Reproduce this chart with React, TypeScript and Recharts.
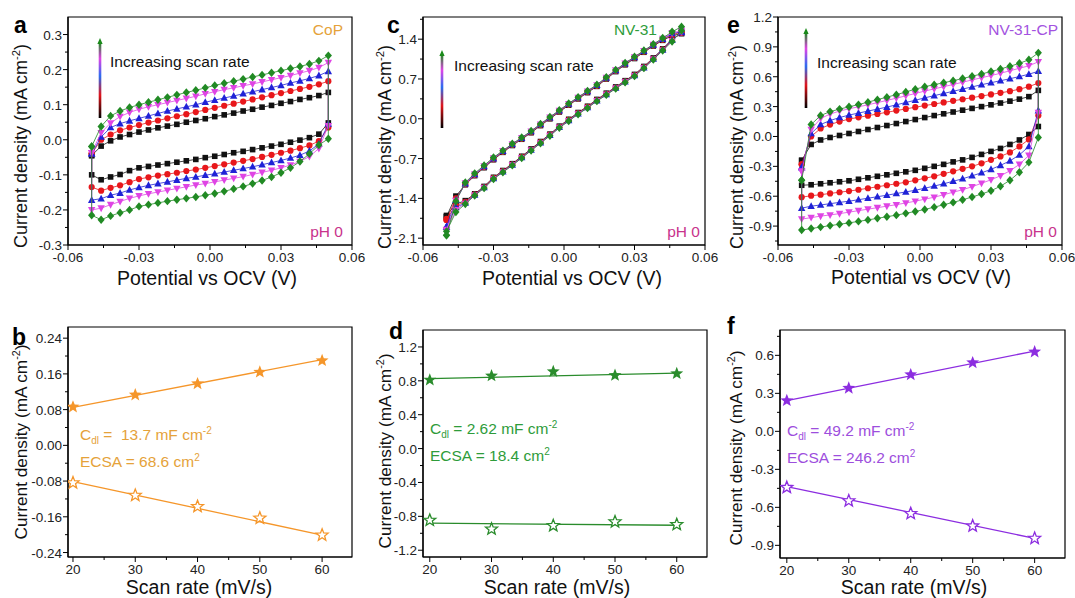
import React from "react";
import { ComposedChart, Scatter, XAxis, YAxis, ReferenceArea } from "recharts";

const FONT = "'Liberation Sans', Arial, Helvetica, sans-serif";

// potential grid of the CV markers (V vs OCV)
const potentials = [
  -0.05, -0.046, -0.042, -0.038, -0.034, -0.03, -0.026, -0.022, -0.018, -0.014, -0.01, -0.006, -0.002,
  0.002, 0.006, 0.01, 0.014, 0.018, 0.022, 0.026, 0.03, 0.034, 0.038, 0.042, 0.046, 0.05,
];

// CoP, forward (anodic) and reverse (cathodic) branches, 20..60 mV/s
const copFwd20 = [-0.045, -0.018, -0.003, 0.008, 0.015, 0.022, 0.028, 0.034, 0.039, 0.044, 0.05, 0.055, 0.06, 0.066, 0.071, 0.076, 0.082, 0.087, 0.093, 0.098, 0.104, 0.109, 0.115, 0.12, 0.126, 0.135];
const copRev20 = [-0.1, -0.114, -0.106, -0.099, -0.088, -0.08, -0.076, -0.072, -0.068, -0.064, -0.06, -0.056, -0.051, -0.047, -0.042, -0.037, -0.033, -0.028, -0.023, -0.018, -0.013, -0.007, -0.001, 0.006, 0.016, 0.048];
const copFwd30 = [-0.04, 0.0, 0.015, 0.027, 0.035, 0.042, 0.049, 0.055, 0.061, 0.067, 0.073, 0.079, 0.085, 0.091, 0.097, 0.103, 0.109, 0.115, 0.121, 0.127, 0.133, 0.139, 0.145, 0.151, 0.158, 0.167];
const copRev30 = [-0.135, -0.145, -0.137, -0.13, -0.121, -0.112, -0.107, -0.102, -0.098, -0.094, -0.089, -0.085, -0.08, -0.075, -0.07, -0.065, -0.06, -0.055, -0.049, -0.043, -0.037, -0.031, -0.024, -0.016, -0.004, 0.035];
const copFwd40 = [-0.04, 0.008, 0.035, 0.046, 0.054, 0.061, 0.068, 0.075, 0.082, 0.088, 0.094, 0.1, 0.107, 0.113, 0.119, 0.125, 0.131, 0.137, 0.143, 0.149, 0.155, 0.162, 0.168, 0.175, 0.183, 0.195];
const copRev40 = [-0.172, -0.168, -0.158, -0.152, -0.143, -0.136, -0.13, -0.125, -0.12, -0.115, -0.11, -0.106, -0.101, -0.097, -0.092, -0.087, -0.082, -0.077, -0.071, -0.065, -0.059, -0.052, -0.044, -0.032, -0.012, 0.045];
const copFwd50 = [-0.037, 0.02, 0.048, 0.066, 0.078, 0.087, 0.094, 0.1, 0.106, 0.112, 0.118, 0.124, 0.131, 0.137, 0.143, 0.148, 0.154, 0.159, 0.165, 0.171, 0.177, 0.183, 0.19, 0.197, 0.206, 0.22];
const copRev50 = [-0.2, -0.195, -0.185, -0.176, -0.167, -0.16, -0.154, -0.149, -0.144, -0.139, -0.134, -0.129, -0.125, -0.12, -0.115, -0.11, -0.105, -0.099, -0.093, -0.087, -0.08, -0.072, -0.062, -0.048, -0.025, 0.04];
const copFwd60 = [-0.019, 0.038, 0.068, 0.082, 0.092, 0.1, 0.107, 0.114, 0.121, 0.128, 0.135, 0.141, 0.148, 0.155, 0.161, 0.167, 0.173, 0.179, 0.185, 0.191, 0.197, 0.203, 0.209, 0.216, 0.225, 0.24];
const copRev60 = [-0.215, -0.228, -0.217, -0.208, -0.2, -0.19, -0.185, -0.18, -0.175, -0.171, -0.167, -0.163, -0.158, -0.153, -0.147, -0.14, -0.133, -0.125, -0.116, -0.106, -0.094, -0.08, -0.062, -0.04, -0.015, 0.003];

// NV-31
const nvFwd20 = [-1.72, -1.36, -1.16, -1.0, -0.86, -0.72, -0.59, -0.47, -0.36, -0.245, -0.12, 0.0, 0.12, 0.24, 0.35, 0.46, 0.57, 0.7, 0.83, 0.95, 1.06, 1.17, 1.28, 1.38, 1.46, 1.5];
const nvRev20 = [-1.7, -1.5, -1.44, -1.32, -1.19, -1.03, -0.91, -0.79, -0.66, -0.53, -0.4, -0.27, -0.13, -0.01, 0.11, 0.22, 0.34, 0.45, 0.56, 0.67, 0.78, 0.92, 1.07, 1.23, 1.4, 1.5];
const nvFwd30 = [-1.78, -1.4, -1.15, -0.99, -0.85, -0.71, -0.58, -0.46, -0.35, -0.235, -0.11, 0.01, 0.13, 0.25, 0.36, 0.47, 0.58, 0.71, 0.84, 0.96, 1.07, 1.18, 1.29, 1.39, 1.48, 1.52];
const nvRev30 = [-1.76, -1.53, -1.46, -1.33, -1.2, -1.04, -0.92, -0.8, -0.67, -0.54, -0.41, -0.28, -0.14, -0.02, 0.1, 0.21, 0.33, 0.44, 0.55, 0.66, 0.77, 0.91, 1.06, 1.22, 1.39, 1.51];
const nvFwd40 = [-1.9, -1.43, -1.14, -0.98, -0.84, -0.7, -0.57, -0.45, -0.34, -0.225, -0.1, 0.02, 0.14, 0.26, 0.37, 0.48, 0.59, 0.72, 0.85, 0.97, 1.08, 1.19, 1.3, 1.4, 1.5, 1.53];
const nvRev40 = [-1.9, -1.56, -1.48, -1.34, -1.21, -1.05, -0.93, -0.81, -0.68, -0.55, -0.42, -0.29, -0.15, -0.03, 0.09, 0.2, 0.32, 0.43, 0.54, 0.65, 0.76, 0.9, 1.05, 1.21, 1.38, 1.52];
const nvFwd50 = [-1.96, -1.44, -1.13, -0.97, -0.83, -0.69, -0.565, -0.445, -0.335, -0.22, -0.095, 0.025, 0.145, 0.265, 0.375, 0.485, 0.595, 0.725, 0.855, 0.975, 1.085, 1.195, 1.305, 1.41, 1.51, 1.55];
const nvRev50 = [-1.95, -1.6, -1.49, -1.345, -1.215, -1.055, -0.935, -0.815, -0.685, -0.555, -0.425, -0.295, -0.155, -0.035, 0.085, 0.195, 0.315, 0.425, 0.535, 0.645, 0.755, 0.895, 1.045, 1.205, 1.37, 1.53];
const nvFwd60 = [-2.05, -1.45, -1.12, -0.96, -0.82, -0.68, -0.56, -0.44, -0.33, -0.215, -0.09, 0.03, 0.15, 0.27, 0.38, 0.49, 0.6, 0.73, 0.86, 0.98, 1.09, 1.2, 1.31, 1.42, 1.53, 1.62];
const nvRev60 = [-1.98, -1.64, -1.5, -1.35, -1.22, -1.06, -0.94, -0.82, -0.69, -0.56, -0.43, -0.3, -0.16, -0.04, 0.08, 0.19, 0.31, 0.42, 0.53, 0.64, 0.75, 0.89, 1.04, 1.2, 1.36, 1.55];

// NV-31-CP
const cpFwd20 = [-0.24, -0.08, -0.035, -0.01, 0.01, 0.03, 0.05, 0.07, 0.09, 0.11, 0.13, 0.15, 0.17, 0.19, 0.21, 0.228, 0.246, 0.264, 0.282, 0.3, 0.318, 0.336, 0.355, 0.375, 0.4, 0.463];
const cpRev20 = [-0.49, -0.485, -0.475, -0.465, -0.455, -0.445, -0.43, -0.415, -0.4, -0.385, -0.37, -0.355, -0.34, -0.32, -0.3, -0.28, -0.255, -0.235, -0.21, -0.18, -0.15, -0.12, -0.08, -0.035, 0.02, 0.1];
const cpFwd30 = [-0.28, 0.0, 0.08, 0.12, 0.15, 0.175, 0.192, 0.209, 0.226, 0.243, 0.26, 0.277, 0.294, 0.31, 0.326, 0.342, 0.358, 0.374, 0.39, 0.406, 0.422, 0.438, 0.455, 0.475, 0.5, 0.537];
const cpRev30 = [-0.61, -0.595, -0.585, -0.572, -0.56, -0.548, -0.535, -0.52, -0.505, -0.49, -0.475, -0.46, -0.44, -0.42, -0.4, -0.375, -0.35, -0.325, -0.3, -0.27, -0.235, -0.2, -0.16, -0.1, -0.03, 0.21];
const cpFwd40 = [-0.31, 0.03, 0.12, 0.16, 0.19, 0.215, 0.235, 0.255, 0.275, 0.295, 0.318, 0.341, 0.364, 0.388, 0.41, 0.432, 0.454, 0.476, 0.498, 0.52, 0.54, 0.56, 0.58, 0.602, 0.625, 0.655];
const cpRev40 = [-0.72, -0.7, -0.688, -0.675, -0.662, -0.65, -0.635, -0.62, -0.605, -0.59, -0.573, -0.557, -0.54, -0.52, -0.498, -0.475, -0.45, -0.425, -0.395, -0.365, -0.33, -0.29, -0.245, -0.185, -0.1, 0.26];
const cpFwd50 = [-0.35, 0.07, 0.18, 0.225, 0.255, 0.278, 0.298, 0.318, 0.34, 0.362, 0.385, 0.408, 0.432, 0.456, 0.478, 0.5, 0.522, 0.545, 0.568, 0.59, 0.612, 0.635, 0.66, 0.685, 0.71, 0.75];
const cpRev50 = [-0.83, -0.815, -0.8, -0.788, -0.775, -0.76, -0.745, -0.73, -0.715, -0.7, -0.685, -0.668, -0.65, -0.63, -0.61, -0.585, -0.56, -0.535, -0.505, -0.47, -0.435, -0.395, -0.345, -0.28, -0.19, 0.24];
const cpFwd60 = [-0.44, 0.12, 0.21, 0.25, 0.275, 0.298, 0.32, 0.345, 0.37, 0.395, 0.42, 0.447, 0.475, 0.5, 0.52, 0.54, 0.56, 0.582, 0.605, 0.628, 0.652, 0.678, 0.705, 0.735, 0.77, 0.84];
const cpRev60 = [-0.94, -0.925, -0.91, -0.895, -0.882, -0.868, -0.853, -0.838, -0.822, -0.806, -0.79, -0.772, -0.753, -0.733, -0.71, -0.686, -0.662, -0.636, -0.608, -0.578, -0.545, -0.5, -0.44, -0.36, -0.26, -0.01];

// Cdl plots: current density at OCV vs scan rate
const scanRates = [20, 30, 40, 50, 60];
const fitRates = [20, 60];
const copAnodic = [0.086, 0.113, 0.138, 0.164, 0.19];
const copCathodic = [-0.084, -0.112, -0.137, -0.163, -0.201];
const copFitA = [0.085, 0.192];
const copFitC = [-0.081, -0.201];
const nvAnodic = [0.81, 0.86, 0.91, 0.865, 0.885];
const nvCathodic = [-0.846, -0.95, -0.91, -0.865, -0.897];
const nvFitA = [0.825, 0.89];
const nvFitC = [-0.88, -0.905];
const cpAnodic = [0.243, 0.341, 0.447, 0.542, 0.627];
const cpCathodic = [-0.443, -0.549, -0.649, -0.747, -0.845];
const cpFitA = [0.243, 0.634];
const cpFitC = [-0.436, -0.845];

const X_CV_MAJOR = [-0.06, -0.03, 0, 0.03, 0.06];
const X_CV_MINOR = [-0.045, -0.015, 0.015, 0.045];
const X_SR_MAJOR = [20, 30, 40, 50, 60];
const X_SR_MINOR = [25, 35, 45, 55];

const scanColors = ["#111111", "#e8171b", "#1f22d6", "#df44e4", "#218a24"];

const loop = (fwd: number[], rev: number[]) => [
  ...fwd.map((y, i) => ({ x: potentials[i], y })),
  ...rev.map((y, i) => ({ x: potentials[i], y })).reverse(),
  { x: potentials[0], y: fwd[0] },
];
const pairs = (xs: number[], ys: number[]) => ys.map((y, i) => ({ x: xs[i], y }));

// marker shapes, black->green: square, circle, up triangle, down triangle, diamond
const scanShapes = [
  (p: any) => <rect x={p.cx - 2.8} y={p.cy - 2.8} width={5.6} height={5.6} fill={scanColors[0]} />,
  (p: any) => <circle cx={p.cx} cy={p.cy} r={3.1} fill={scanColors[1]} />,
  (p: any) => (
    <polygon points={`${p.cx},${p.cy - 4} ${p.cx - 3.7},${p.cy + 2.8} ${p.cx + 3.7},${p.cy + 2.8}`} fill={scanColors[2]} />
  ),
  (p: any) => (
    <polygon points={`${p.cx},${p.cy + 4} ${p.cx - 3.7},${p.cy - 2.8} ${p.cx + 3.7},${p.cy - 2.8}`} fill={scanColors[3]} />
  ),
  (p: any) => (
    <polygon points={`${p.cx},${p.cy - 4.2} ${p.cx + 3.6},${p.cy} ${p.cx},${p.cy + 4.2} ${p.cx - 3.6},${p.cy}`} fill={scanColors[4]} />
  ),
];

const starPoints = (cx: number, cy: number, R: number, r: number) => {
  const pts: string[] = [];
  for (let i = 0; i < 10; i++) {
    const a = -Math.PI / 2 + (i * Math.PI) / 5;
    const rad = i % 2 === 0 ? R : r;
    pts.push(`${cx + rad * Math.cos(a)},${cy + rad * Math.sin(a)}`);
  }
  return pts.join(" ");
};
const filledStar = (color: string) => (p: any) => <polygon points={starPoints(p.cx, p.cy, 6.8, 2.9)} fill={color} />;
const hollowStar = (color: string) => (p: any) => (
  <polygon points={starPoints(p.cx, p.cy, 6.3, 2.7)} fill="#fff" stroke={color} strokeWidth={1.3} />
);
const noMarker = () => <g />;

const isMajor = (v: number, major: number[]) => major.some((m) => Math.abs(m - v) < 1e-9);

const XTick = ({ x, y, payload, major, digits }: any) => {
  const big = isMajor(payload.value, major);
  return (
    <g>
      <line x1={x} x2={x} y1={y} y2={y + (big ? 5 : 3)} stroke="#000" strokeWidth={1} />
      {big && (
        <text x={x} y={y + 17} textAnchor="middle" fontSize={13.5} fontFamily={FONT} fill="#222">
          {payload.value.toFixed(digits)}
        </text>
      )}
    </g>
  );
};

const YTick = ({ x, y, payload, major, digits }: any) => {
  const big = isMajor(payload.value, major);
  return (
    <g>
      <line x1={x} x2={x - (big ? 5 : 3)} y1={y} y2={y} stroke="#000" strokeWidth={1} />
      {big && (
        <text x={x - 6} y={y + 5} textAnchor="end" fontSize={13.5} fontFamily={FONT} fill="#222">
          {payload.value.toFixed(digits)}
        </text>
      )}
    </g>
  );
};

type PanelProps = {
  left: number;
  top: number;
  right: number;
  bottom: number;
  xDomain: [number, number];
  yDomain: [number, number];
  xMajor: number[];
  xMinor: number[];
  yMajor: number[];
  yMinor: number[];
  xDigits: number;
  yDigits: number;
  children: React.ReactNode;
};

const Panel = (p: PanelProps) => {
  const xTicks = [...p.xMajor, ...p.xMinor].sort((a, b) => a - b);
  const yTicks = [...p.yMajor, ...p.yMinor].sort((a, b) => a - b);
  return (
    <div style={{ position: "absolute", left: p.left - 60, top: p.top - 10 }}>
      <ComposedChart
        width={p.right - p.left + 82}
        height={p.bottom - p.top + 40}
        margin={{ top: 10, right: 22, bottom: 0, left: 0 }}
      >
        <XAxis
          type="number"
          dataKey="x"
          domain={p.xDomain}
          allowDataOverflow
          ticks={xTicks}
          interval={0}
          height={30}
          tickSize={0}
          tickMargin={0}
          tickLine={false}
          axisLine={{ stroke: "#000", strokeWidth: 1.2 }}
          tick={(t: any) => <XTick {...t} major={p.xMajor} digits={p.xDigits} />}
        />
        <YAxis
          type="number"
          dataKey="y"
          domain={p.yDomain}
          allowDataOverflow
          ticks={yTicks}
          interval={0}
          width={60}
          tickSize={0}
          tickMargin={0}
          tickLine={false}
          axisLine={{ stroke: "#000", strokeWidth: 1.2 }}
          tick={(t: any) => <YTick {...t} major={p.yMajor} digits={p.yDigits} />}
        />
        <ReferenceArea
          x1={p.xDomain[0]}
          x2={p.xDomain[1]}
          y1={p.yDomain[0]}
          y2={p.yDomain[1]}
          fill="none"
          stroke="#000"
          strokeWidth={1.2}
        />
        {p.children}
      </ComposedChart>
    </div>
  );
};

const cvSeries = (fwd: number[][], rev: number[][]) =>
  fwd.map((f, k) => (
    <Scatter
      key={`cv-${k}`}
      data={loop(f, rev[k])}
      line={{ stroke: scanColors[k], strokeWidth: 0.8 }}
      shape={scanShapes[k]}
      isAnimationActive={false}
    />
  ));

const cdlSeries = (color: string, an: number[], ca: number[], fitA: number[], fitC: number[]) => [
  <Scatter key="fa" data={pairs(fitRates, fitA)} line={{ stroke: color, strokeWidth: 1.3 }} shape={noMarker} isAnimationActive={false} />,
  <Scatter key="fc" data={pairs(fitRates, fitC)} line={{ stroke: color, strokeWidth: 1.3 }} shape={noMarker} isAnimationActive={false} />,
  <Scatter key="an" data={pairs(scanRates, an)} shape={filledStar(color)} isAnimationActive={false} />,
  <Scatter key="ca" data={pairs(scanRates, ca)} shape={hollowStar(color)} isAnimationActive={false} />,
];

const YTitle = ({ cx, cy, size = 18 }: { cx: number; cy: number; size?: number }) => (
  <text transform={`translate(${cx},${cy}) rotate(-90)`} textAnchor="middle" dy="0.35em" fontSize={size} fontFamily={FONT} fill="#111">
    Current density (mA cm<tspan dy={-7} fontSize={size * 0.62}>-2</tspan>
    <tspan dy={7}>)</tspan>
  </text>
);

const XTitle = ({ cx, y, text }: { cx: number; y: number; text: string }) => (
  <text x={cx} y={y} textAnchor="middle" fontSize={19.5} fontFamily={FONT} fill="#111">
    {text}
  </text>
);

const Letter = ({ x, y, t }: { x: number; y: number; t: string }) => (
  <text x={x} y={y} fontSize={23} fontWeight="bold" fontFamily={FONT} fill="#000">
    {t}
  </text>
);

const Tag = ({ x, y, t, color }: { x: number; y: number; t: string; color: string }) => (
  <text x={x} y={y} textAnchor="end" fontSize={15.5} fontFamily={FONT} fill={color}>
    {t}
  </text>
);

const ScanArrow = ({ x, top, bottom, label }: { x: number; top: number; bottom: number; label: { x: number; y: number } }) => (
  <g>
    <rect x={x - 1.3} y={top + 4} width={2.6} height={bottom - top - 4} fill="url(#scanGrad)" />
    <polygon points={`${x},${top} ${x - 2.6},${top + 6} ${x + 2.6},${top + 6}`} fill="#1a8a1a" />
    <text x={label.x} y={label.y} fontSize={15.5} fontFamily={FONT} fill="#111">
      Increasing scan rate
    </text>
  </g>
);

const CdlNote = ({ x, y, color, cdl, ecsa }: { x: number; y: number; color: string; cdl: string; ecsa: string }) => (
  <g fontFamily={FONT} fill={color} fontSize={15.5}>
    <text x={x} y={y}>
      C<tspan dy={4} fontSize={10}>dl</tspan>
      <tspan dy={-4}>{cdl}</tspan>
      <tspan dy={-6} fontSize={10}>-2</tspan>
    </text>
    <text x={x} y={y + 27}>
      {ecsa}
      <tspan dy={-6} fontSize={10}>2</tspan>
    </text>
  </g>
);

const App: React.FC = () => {
  return (
    <div style={{ position: "absolute", left: 0, top: 0, width: 1075, height: 598, background: "#fff", overflow: "hidden" }}>
      {/* a: CoP */}
      <Panel left={68} top={17} right={352} bottom={245} xDomain={[-0.06, 0.06]} yDomain={[-0.3, 0.35]}
        xMajor={X_CV_MAJOR} xMinor={X_CV_MINOR} yMajor={[-0.3, -0.2, -0.1, 0, 0.1, 0.2, 0.3]}
        yMinor={[-0.25, -0.15, -0.05, 0.05, 0.15, 0.25]} xDigits={2} yDigits={1}>
        {cvSeries([copFwd20, copFwd30, copFwd40, copFwd50, copFwd60], [copRev20, copRev30, copRev40, copRev50, copRev60])}
      </Panel>
      {/* c: NV-31 */}
      <Panel left={423} top={17} right={705} bottom={245} xDomain={[-0.06, 0.06]} yDomain={[-2.22, 1.79]}
        xMajor={X_CV_MAJOR} xMinor={X_CV_MINOR} yMajor={[-2.1, -1.4, -0.7, 0, 0.7, 1.4]}
        yMinor={[-1.75, -1.05, -0.35, 0.35, 1.05, 1.75]} xDigits={2} yDigits={1}>
        {cvSeries([nvFwd20, nvFwd30, nvFwd40, nvFwd50, nvFwd60], [nvRev20, nvRev30, nvRev40, nvRev50, nvRev60])}
      </Panel>
      {/* e: NV-31-CP */}
      <Panel left={778} top={17} right={1062} bottom={245} xDomain={[-0.06, 0.06]} yDomain={[-1.09, 1.2]}
        xMajor={X_CV_MAJOR} xMinor={X_CV_MINOR} yMajor={[-0.9, -0.6, -0.3, 0, 0.3, 0.6, 0.9, 1.2]}
        yMinor={[-1.05, -0.75, -0.45, -0.15, 0.15, 0.45, 0.75, 1.05]} xDigits={2} yDigits={1}>
        {cvSeries([cpFwd20, cpFwd30, cpFwd40, cpFwd50, cpFwd60], [cpRev20, cpRev30, cpRev40, cpRev50, cpRev60])}
      </Panel>
      {/* b */}
      <Panel left={68} top={327} right={352} bottom={557} xDomain={[19.2, 64.8]} yDomain={[-0.25, 0.265]}
        xMajor={X_SR_MAJOR} xMinor={X_SR_MINOR} yMajor={[-0.24, -0.16, -0.08, 0, 0.08, 0.16, 0.24]}
        yMinor={[-0.2, -0.12, -0.04, 0.04, 0.12, 0.2]} xDigits={0} yDigits={2}>
        {cdlSeries("#f5962a", copAnodic, copCathodic, copFitA, copFitC)}
      </Panel>
      {/* d */}
      <Panel left={423} top={330} right={707} bottom={557} xDomain={[18.9, 64.9]} yDomain={[-1.28, 1.4]}
        xMajor={X_SR_MAJOR} xMinor={X_SR_MINOR} yMajor={[-1.2, -0.8, -0.4, 0, 0.4, 0.8, 1.2]}
        yMinor={[-1.0, -0.6, -0.2, 0.2, 0.6, 1.0]} xDigits={0} yDigits={1}>
        {cdlSeries("#2a8c2c", nvAnodic, nvCathodic, nvFitA, nvFitC)}
      </Panel>
      {/* f */}
      <Panel left={780} top={330} right={1065} bottom={558} xDomain={[18.9, 64.9]} yDomain={[-1.0, 0.8]}
        xMajor={X_SR_MAJOR} xMinor={X_SR_MINOR} yMajor={[-0.9, -0.6, -0.3, 0, 0.3, 0.6]}
        yMinor={[-0.75, -0.45, -0.15, 0.15, 0.45, 0.75]} xDigits={0} yDigits={1}>
        {cdlSeries("#8c2de0", cpAnodic, cpCathodic, cpFitA, cpFitC)}
      </Panel>

      <svg width={1075} height={598} style={{ position: "absolute", left: 0, top: 0, pointerEvents: "none" }}>
        <defs>
          <linearGradient id="scanGrad" x1="0" y1="1" x2="0" y2="0">
            <stop offset="0" stopColor="#000" />
            <stop offset="0.3" stopColor="#e0141a" />
            <stop offset="0.55" stopColor="#2a6cf0" />
            <stop offset="0.78" stopColor="#e044e6" />
            <stop offset="1" stopColor="#1a8a1a" />
          </linearGradient>
        </defs>

        <Letter x={14} y={33} t="a" />
        <Letter x={387} y={33} t="c" />
        <Letter x={727} y={33} t="e" />
        <Letter x={12} y={345} t="b" />
        <Letter x={389} y={339} t="d" />
        <Letter x={727} y={334} t="f" />

        <YTitle cx={21} cy={442} size={17.2} />
        <YTitle cx={21} cy={146} />
        <YTitle cx={385} cy={147} />
        <YTitle cx={737} cy={147} />
        <YTitle cx={385} cy={451} size={17.2} />
        <YTitle cx={736} cy={448} size={17.2} />

        <XTitle cx={207} y={285} text="Potential vs OCV (V)" />
        <XTitle cx={572} y={285} text="Potential vs OCV (V)" />
        <XTitle cx={921} y={284} text="Potential vs OCV (V)" />
        <XTitle cx={199} y={594} text="Scan rate (mV/s)" />
        <XTitle cx={557} y={594} text="Scan rate (mV/s)" />
        <XTitle cx={914} y={594} text="Scan rate (mV/s)" />

        <Tag x={343} y={35} t="CoP" color="#e5a23a" />
        <Tag x={343} y={237} t="pH 0" color="#c8338c" />
        <Tag x={657} y={35} t="NV-31" color="#2e9c3a" />
        <Tag x={700} y={237} t="pH 0" color="#c8338c" />
        <Tag x={1058} y={35} t="NV-31-CP" color="#a352e0" />
        <Tag x={1057} y={237} t="pH 0" color="#c8338c" />

        <ScanArrow x={100} top={38} bottom={118} label={{ x: 110, y: 67 }} />
        <ScanArrow x={442} top={50} bottom={128} label={{ x: 454, y: 71 }} />
        <ScanArrow x={806} top={28} bottom={108} label={{ x: 817, y: 68 }} />

        <CdlNote x={80} y={440} color="#e5a23a" cdl={"\u00a0=\u00a0\u00a013.7 mF cm"} ecsa="ECSA = 68.6 cm" />
        <CdlNote x={430} y={434} color="#2e9c3a" cdl=" = 2.62 mF cm" ecsa="ECSA = 18.4 cm" />
        <CdlNote x={787} y={436} color="#9d4edd" cdl=" = 49.2 mF cm" ecsa="ECSA = 246.2 cm" />
      </svg>
    </div>
  );
};

export default App;
